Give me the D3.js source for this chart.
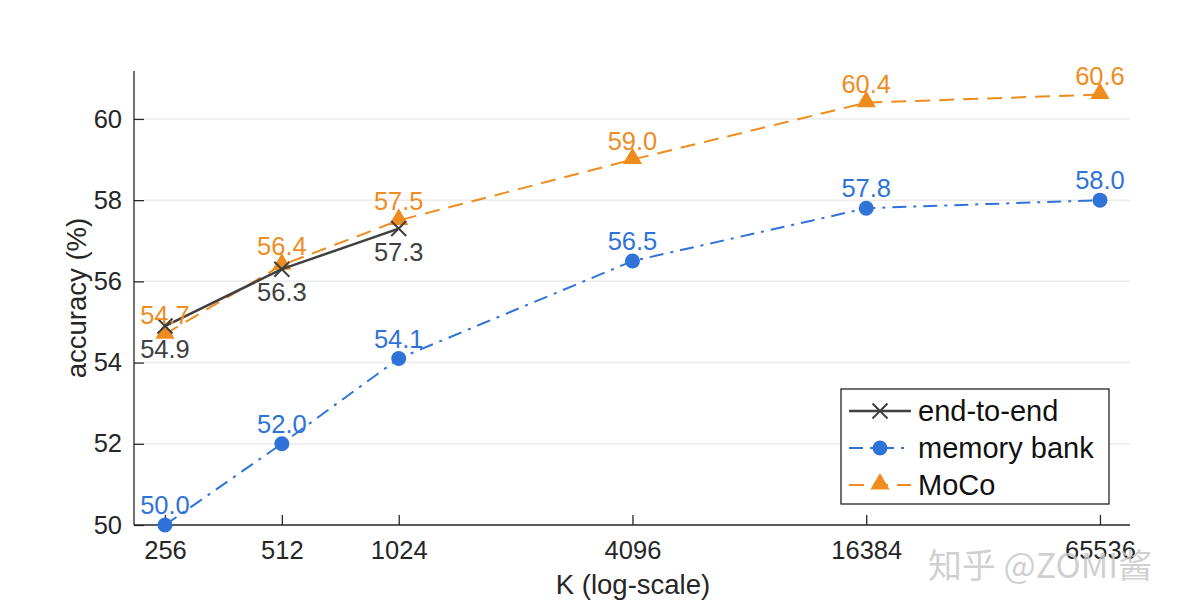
<!DOCTYPE html>
<html>
<head>
<meta charset="utf-8">
<script src="https://cdn.jsdelivr.net/npm/d3@7"></script>
<style>
  body { margin: 0; background: #fff; }
  svg text { font-family: "Liberation Sans", Arial, Helvetica, sans-serif; }
</style>
</head>
<body>
<svg id="chart" width="1198" height="612"></svg>
<script>
// queue sizes (x) and accuracies per method
var kValues = [256, 512, 1024, 4096, 16384, 65536];
var endToEnd = [54.9, 56.3, 57.3];
var memoryBank = [50.0, 52.0, 54.1, 56.5, 57.8, 58.0];
var moco = [54.7, 56.4, 57.5, 59.0, 60.4, 60.6];
var yTicks = [50, 52, 54, 56, 58, 60];
var seriesNames = ["end-to-end", "memory bank", "MoCo"];

var colors = {e2e: "#404040", bank: "#2f73d8", moco: "#ee8c1e"};

var svg = d3.select("#chart");

//plot box
var box = {left: 134, right: 1130, top: 71, bottom: 525};

var xScale = d3.scaleLog().base(2)
    .domain([Math.pow(2, 7.735), Math.pow(2, 16.257)])
    .range([box.left, box.right]);

var yScale = d3.scaleLinear()
    .domain([50, 61.18])
    .range([box.bottom, box.top]);

// grid lines
svg.append("g")
    .selectAll("line")
    .data(yTicks.slice(1))
    .enter()
    .append("line")
    .attr("x1", box.left + 10)
    .attr("x2", box.right)
    .attr("y1", function(d) { return yScale(d); })
    .attr("y2", function(d) { return yScale(d); })
    .attr("stroke", "#ebebeb")
    .attr("stroke-width", 1.5);

// axes (inward ticks)
var xAxis = svg.append("g")
    .attr("transform", "translate(0," + box.bottom + ")")
    .call(d3.axisBottom(xScale).tickValues(kValues).tickFormat(d3.format("d"))
          .tickSizeInner(-10).tickSizeOuter(0).tickPadding(16));

var yAxis = svg.append("g")
    .attr("transform", "translate(" + box.left + ",0)")
    .call(d3.axisLeft(yScale).tickValues(yTicks)
          .tickSizeInner(-10).tickSizeOuter(0).tickPadding(12));

[xAxis, yAxis].forEach(function(ax) {
    ax.select(".domain").attr("stroke", "#262626").attr("stroke-width", 1.3);
    ax.selectAll(".tick line").attr("stroke", "#262626").attr("stroke-width", 1.3);
    ax.selectAll(".tick text").attr("fill", "#262626")
        .style("font-size", "25.5px");
});
xAxis.select(".domain").attr("d", "M" + box.left + ",0H" + box.right);
yAxis.select(".domain").attr("d", "M0," + box.bottom + "V" + box.top);
xAxis.selectAll(".tick text").attr("dy", "0.71em");

// axis titles
svg.append("text")
    .text("K (log-scale)")
    .attr("x", 633).attr("y", 594)
    .attr("text-anchor", "middle")
    .attr("fill", "#262626")
    .style("font-size", "27.5px");

svg.append("text")
    .text("accuracy (%)")
    .attr("transform", "translate(86,298) rotate(-90)")
    .attr("text-anchor", "middle")
    .attr("fill", "#262626")
    .style("font-size", "27.5px");

var line = d3.line()
    .x(function(d) { return xScale(d.k); })
    .y(function(d) { return yScale(d.v); });

var pairs = function(vals) {
    return vals.map(function(v, i) { return {k: kValues[i], v: v}; });
};

var bankData = pairs(memoryBank);
var mocoData = pairs(moco);
var e2eData = pairs(endToEnd);

// memory bank: dash-dot
svg.append("path")
    .datum(bankData)
    .attr("d", line)
    .attr("fill", "none")
    .attr("stroke", colors.bank)
    .attr("stroke-width", 2)
    .attr("stroke-dasharray", "14,7,3,7");

svg.append("g").selectAll("circle")
    .data(bankData).enter()
    .append("circle")
    .attr("cx", function(d) { return xScale(d.k); })
    .attr("cy", function(d) { return yScale(d.v); })
    .attr("r", 7.5)
    .attr("fill", colors.bank);

// MoCo: dashed
svg.append("path")
    .datum(mocoData)
    .attr("d", line)
    .attr("fill", "none")
    .attr("stroke", colors.moco)
    .attr("stroke-width", 2)
    .attr("stroke-dasharray", "15,9");

var tri = d3.symbol().type(d3.symbolTriangle).size(160);
svg.append("g").selectAll("path")
    .data(mocoData).enter()
    .append("path")
    .attr("d", tri)
    .attr("transform", function(d) {
        return "translate(" + xScale(d.k) + "," + (yScale(d.v) - 1) + ")";
    })
    .attr("fill", colors.moco);

// end-to-end: solid with x marks
svg.append("path")
    .datum(e2eData)
    .attr("d", line)
    .attr("fill", "none")
    .attr("stroke", colors.e2e)
    .attr("stroke-width", 2.5);

var cross = function(s) {
    return "M" + (-s) + "," + (-s) + "L" + s + "," + s + "M" + (-s) + "," + s + "L" + s + "," + (-s);
};
svg.append("g").selectAll("path")
    .data(e2eData).enter()
    .append("path")
    .attr("d", cross(7.5))
    .attr("transform", function(d) {
        return "translate(" + xScale(d.k) + "," + yScale(d.v) + ")";
    })
    .attr("stroke", colors.e2e)
    .attr("stroke-width", 2);

// value labels
var addLabels = function(data, color, dy) {
    svg.append("g").selectAll("text")
        .data(data).enter()
        .append("text")
        .text(function(d) { return d.v.toFixed(1); })
        .attr("x", function(d) { return xScale(d.k); })
        .attr("y", function(d) { return yScale(d.v) + dy; })
        .attr("text-anchor", "middle")
        .attr("fill", color)
        .style("font-size", "25.5px");
};
addLabels(bankData, colors.bank, -11);
addLabels(mocoData, colors.moco, -10);
addLabels(e2eData, colors.e2e, 32);

// legend
var legend = svg.append("g").attr("transform", "translate(841,389)");
legend.append("rect")
    .attr("width", 268).attr("height", 115)
    .attr("fill", "#fff")
    .attr("stroke", "#262626")
    .attr("stroke-width", 1.3);

var rowY = [22, 59, 96];
var styles = [
    {color: colors.e2e, dash: null, w: 2.5},
    {color: colors.bank, dash: "14,7,3,7", w: 2},
    {color: colors.moco, dash: "15,9", w: 2}
];
seriesNames.forEach(function(name, i) {
    var g = legend.append("g").attr("transform", "translate(0," + rowY[i] + ")");
    g.append("line")
        .attr("x1", 8).attr("x2", 70)
        .attr("stroke", styles[i].color)
        .attr("stroke-width", styles[i].w)
        .attr("stroke-dasharray", styles[i].dash);
    if (i == 0) {
        g.append("path").attr("d", cross(7.5)).attr("transform", "translate(39,0)")
            .attr("stroke", colors.e2e).attr("stroke-width", 2);
    } else if (i == 1) {
        g.append("circle").attr("cx", 39).attr("r", 7.5).attr("fill", colors.bank);
    } else {
        g.append("path").attr("d", tri).attr("transform", "translate(39,-1)")
            .attr("fill", colors.moco);
    }
    g.append("text")
        .text(name)
        .attr("x", 77).attr("y", 10)
        .attr("fill", "#111")
        .style("font-size", "29px");
});

// watermark (sits over the last tick label, as in the source image)
svg.append("text")
    .text("知乎 @ZOMI酱")
    .attr("x", 928).attr("y", 578)
    .attr("fill", "#c8c8c8")
    .attr("fill-opacity", 0.85)
    .style("font-family", "'Noto Sans CJK SC', sans-serif")
    .style("font-size", "34px");
</script>
</body>
</html>
